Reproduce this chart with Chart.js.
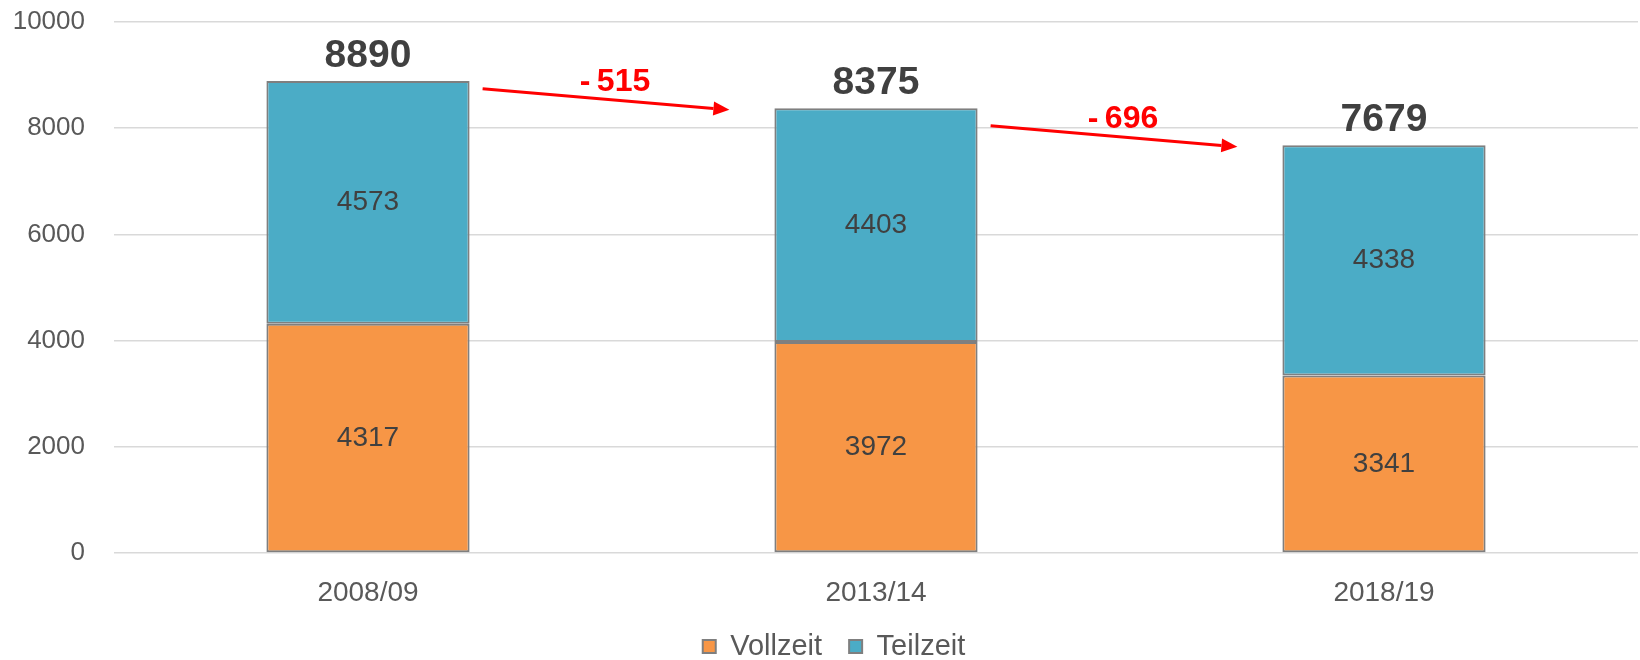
<!DOCTYPE html>
<html lang="de">
<head>
<meta charset="utf-8">
<title>Vollzeit / Teilzeit</title>
<script src="https://cdn.jsdelivr.net/npm/chart.js@4.4.1/dist/chart.umd.min.js"></script>
<style>
    html, body { margin: 0; padding: 0; background: #ffffff; }
    #chart { display: block; }
</style>
</head>
<body>
<canvas id="chart" width="1640" height="660"></canvas>
<script>
    // Daten
    const years = ['2008/09', '2013/14', '2018/19'];
    const vollzeit = [4317, 3972, 3341];
    const teilzeit = [4573, 4403, 4338];
    const yTicks = [0, 2000, 4000, 6000, 8000, 10000];

    const FONT = '"Liberation Sans", Arial, sans-serif';

    // Summen aus beiden Reihen
    const totals = years.map((_, i) => vollzeit[i] + teilzeit[i]);

    /**
     * Legende etwas tiefer und nach rechts setzen.
     */
    const legendPlacement = {
        id: 'legendPlacement',
        beforeLayout(chart) {
            const legend = chart.legend;
            if (!legend || legend._patched) return;
            const origFit = legend.fit.bind(legend);
            legend.fit = function () {
                origFit();
                this.height = 55;
            };
            legend._patched = true;
        },
        afterLayout(chart) {
            chart.legend.left += 15;
            chart.legend.right += 15;
        }
    };

    /**
     * Beschriftungen: Werte in den Segmenten, Summen oben, rote Pfeile mit Differenz.
     */
    const labelPlugin = {
        id: 'labelPlugin',
        afterDatasetsDraw(chart) {
            const ctx = chart.ctx;
            const yScale = chart.scales.y;
            const metaV = chart.getDatasetMeta(0);
            const metaT = chart.getDatasetMeta(1);

            ctx.save();
            ctx.textAlign = 'center';

            // Werte in den Segmenten
            ctx.font = '28px ' + FONT;
            ctx.fillStyle = '#404040';
            ctx.textBaseline = 'middle';
            [metaV, metaT].forEach(meta => {
                meta.data.forEach((bar, i) => {
                    const value = meta.index === 0 ? vollzeit[i] : teilzeit[i];
                    ctx.fillText(String(value), bar.x, (bar.y + bar.base) / 2);
                });
            });

            // Summen über den Balken
            ctx.font = 'bold 39px ' + FONT;
            ctx.textBaseline = 'alphabetic';
            metaT.data.forEach((bar, i) => {
                ctx.fillText(String(totals[i]), bar.x, yScale.getPixelForValue(totals[i]) - 14);
            });

            // Pfeile zwischen den Balken
            ctx.strokeStyle = '#ff0000';
            ctx.fillStyle = '#ff0000';
            ctx.lineWidth = 3;
            for (let i = 0; i < totals.length - 1; i++) {
                const a = metaT.data[i];
                const b = metaT.data[i + 1];
                const x1 = a.x + a.width / 2 + 13;
                const x2 = b.x - b.width / 2 - 45;
                const y2 = yScale.getPixelForValue(totals[i + 1]) + 1.5;
                const y1 = y2 - 21;
                const ang = Math.atan2(y2 - y1, x2 - x1);
                const headLen = 16;
                const headHalf = 7;
                const bx = x2 - headLen * Math.cos(ang);
                const by = y2 - headLen * Math.sin(ang);

                ctx.beginPath();
                ctx.moveTo(x1, y1);
                ctx.lineTo(bx, by);
                ctx.stroke();

                ctx.beginPath();
                ctx.moveTo(x2, y2);
                ctx.lineTo(bx - headHalf * Math.sin(ang), by + headHalf * Math.cos(ang));
                ctx.lineTo(bx + headHalf * Math.sin(ang), by - headHalf * Math.cos(ang));
                ctx.closePath();
                ctx.fill();

                const diff = totals[i + 1] - totals[i];
                ctx.font = 'bold 32px ' + FONT;
                ctx.textBaseline = 'middle';
                ctx.fillText('-\u2009' + Math.abs(diff), (x1 + x2) / 2 + 9, (y1 + y2) / 2 - 17);
            }
            ctx.restore();
        }
    };

    const barStyle = {
        borderColor: '#7f7f7f',
        borderWidth: 2,
        borderSkipped: false,
        categoryPercentage: 1,
        barPercentage: 0.4
    };

    new Chart(document.getElementById('chart').getContext('2d'), {
        type: 'bar',
        data: {
            labels: years,
            datasets: [
                Object.assign({ label: 'Vollzeit', data: vollzeit, backgroundColor: '#f79646' }, barStyle),
                Object.assign({ label: 'Teilzeit', data: teilzeit, backgroundColor: '#4bacc6' }, barStyle)
            ]
        },
        options: {
            responsive: false,
            animation: false,
            layout: { padding: { top: 22, right: 2, bottom: 0, left: 0 } },
            plugins: {
                tooltip: { enabled: false },
                legend: {
                    position: 'bottom',
                    labels: {
                        boxWidth: 13,
                        boxHeight: 13,
                        padding: 27,
                        color: '#595959',
                        font: { family: FONT, size: 29 }
                    }
                }
            },
            scales: {
                x: {
                    stacked: true,
                    grid: { display: false },
                    border: { display: false },
                    ticks: {
                        color: '#595959',
                        padding: 15,
                        font: { family: FONT, size: 28 }
                    },
                    afterFit: (scale) => { scale.height = 52; }
                },
                y: {
                    stacked: true,
                    min: 0,
                    max: 10000,
                    afterBuildTicks: (scale) => { scale.ticks = yTicks.map(v => ({ value: v })); },
                    grid: { color: '#d9d9d9', lineWidth: 1.5, drawTicks: false },
                    border: { display: false },
                    ticks: {
                        color: '#595959',
                        padding: 29,
                        font: { family: FONT, size: 26 },
                        callback: (value) => String(value)
                    },
                    afterFit: (scale) => {
                        scale.width = 114;
                        scale.paddingTop = 0;
                        scale.paddingBottom = 0;
                    }
                }
            }
        },
        plugins: [legendPlacement, labelPlugin]
    });
</script>
</body>
</html>
